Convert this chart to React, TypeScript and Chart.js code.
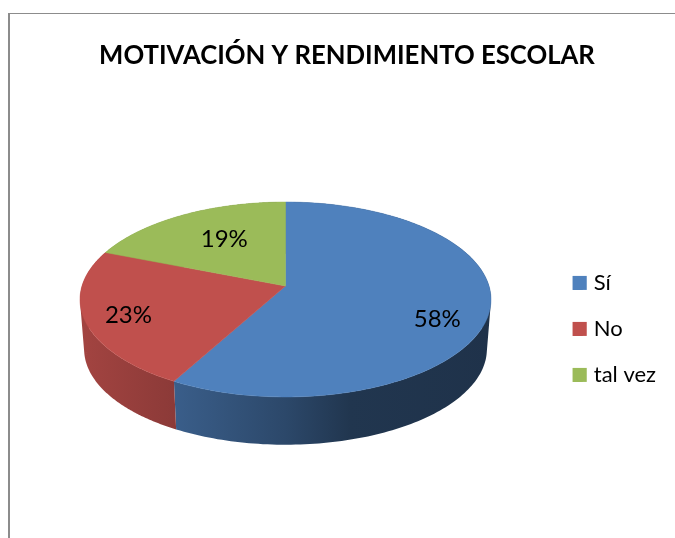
import React, { useEffect, useRef } from "react";
import { Chart, registerables } from "chart.js";

Chart.register(...registerables);

const TITLE = "MOTIVACIÓN Y RENDIMIENTO ESCOLAR";
const categories = ["Sí", "No", "tal vez"];
const shares = [58, 23, 19];
const sliceColors = ["#4F81BD", "#C0504D", "#9BBB59"];

// Where each percentage sits: fraction of the radius, then a small vertical nudge.
const labelRadius = [0.75, 0.79, 0.57];
const labelNudge = [15, 3, -4];

// Perspective view of the pie disc.
const VIEW = { x: 285.5, y: 286, a: 203.5, b: 95.6, k: 0.1384 };
// The underside of the disc, seen further away.
const BASE = { scale: 0.98, drop: 50 };
// Brightness of the rim, by horizontal position on the page.
const rimShadeX = [80, 174, 285, 350, 491];
const rimShade = [0.85, 0.73, 0.56, 0.42, 0.39];
const LEGEND_BOX = 14;

const project = (angle: number, f = 1, scale = 1, drop = 0) => {
  const u = Math.cos(angle) * f;
  const v = Math.sin(angle) * f;
  const d = 1 - VIEW.k * v;
  return {
    x: VIEW.x + (scale * VIEW.a * u) / d,
    y: VIEW.y + drop + (scale * VIEW.b * v) / d,
  };
};

const hexToRgb = (hex: string) => [1, 3, 5].map((i) => parseInt(hex.slice(i, i + 2), 16));

const perspectivePie = {
  id: "perspectivePie",
  beforeDatasetDraw(chart: any) {
    const { ctx } = chart;
    const arcs = chart.getDatasetMeta(0).data;
    const colors = chart.data.datasets[0].backgroundColor as string[];
    const STEPS = 180;

    // Rim first, so that the top face covers its hidden back half.
    arcs.forEach((arc: any, i: number) => {
      const { startAngle, endAngle } = arc;
      const [r, g, b] = hexToRgb(colors[i]);
      const x0 = rimShadeX[0];
      const x1 = rimShadeX[rimShadeX.length - 1];
      const grad = ctx.createLinearGradient(x0, 0, x1, 0);
      rimShadeX.forEach((x, n) => {
        const m = rimShade[n];
        grad.addColorStop((x - x0) / (x1 - x0), `rgb(${r * m},${g * m},${b * m})`);
      });
      ctx.fillStyle = grad;
      // One path of many small quads: the sweep between the rims, silhouette included.
      ctx.beginPath();
      for (let s = 0; s < STEPS; s++) {
        const a0 = startAngle + ((endAngle - startAngle) * s) / STEPS;
        const a1 = startAngle + ((endAngle - startAngle) * (s + 1)) / STEPS;
        const t0 = project(a0);
        const t1 = project(a1);
        const b0 = project(a0, 1, BASE.scale, BASE.drop);
        const b1 = project(a1, 1, BASE.scale, BASE.drop);
        // Every quad wound the same way, so nonzero filling leaves no holes.
        const area =
          (t1.x - t0.x) * (b0.y - t0.y) - (t1.y - t0.y) * (b0.x - t0.x);
        ctx.moveTo(t0.x, t0.y);
        if (area >= 0) {
          ctx.lineTo(t1.x, t1.y);
          ctx.lineTo(b1.x, b1.y);
          ctx.lineTo(b0.x, b0.y);
        } else {
          ctx.lineTo(b0.x, b0.y);
          ctx.lineTo(b1.x, b1.y);
          ctx.lineTo(t1.x, t1.y);
        }
        ctx.closePath();
      }
      ctx.fill();
    });

    // Top face.
    arcs.forEach((arc: any, i: number) => {
      const { startAngle, endAngle } = arc;
      ctx.beginPath();
      const apex = project(0, 0);
      ctx.moveTo(apex.x, apex.y);
      for (let s = 0; s <= STEPS; s++) {
        const p = project(startAngle + ((endAngle - startAngle) * s) / STEPS);
        ctx.lineTo(p.x, p.y);
      }
      ctx.closePath();
      ctx.fillStyle = colors[i];
      ctx.strokeStyle = colors[i];
      ctx.lineWidth = 0.5;
      ctx.fill();
      ctx.stroke();
    });
    return false;
  },
  afterDatasetsDraw(chart: any) {
    const { ctx } = chart;
    const values = chart.data.datasets[0].data as number[];
    ctx.save();
    ctx.font = "24px Lato";
    ctx.fillStyle = "#000000";
    ctx.textAlign = "center";
    ctx.textBaseline = "middle";
    chart.getDatasetMeta(0).data.forEach((arc: any, i: number) => {
      const mid = (arc.startAngle + arc.endAngle) / 2;
      const p = project(mid, labelRadius[i]);
      ctx.fillText(`${values[i]}%`, p.x, p.y + labelNudge[i]);
    });
    ctx.restore();
  },
  afterDraw(chart: any) {
    // Chart.js ties the swatch-to-text gap to the font size; widen the swatch into that gap.
    const { ctx, legend } = chart;
    const colors = chart.data.datasets[0].backgroundColor as string[];
    ctx.save();
    legend.legendHitBoxes.forEach((box: any, i: number) => {
      ctx.fillStyle = colors[i];
      ctx.fillRect(box.left, box.top + (box.height - LEGEND_BOX) / 2, LEGEND_BOX, LEGEND_BOX);
    });
    ctx.restore();
  },
};

export default function App() {
  const ref = useRef<HTMLCanvasElement>(null);
  useEffect(() => {
    const chart = new Chart(ref.current!, {
      type: "pie",
      data: {
        labels: categories,
        datasets: [{ data: shares, backgroundColor: sliceColors, borderWidth: 0 }],
      },
      options: {
        responsive: false,
        animation: false,
        events: [],
        layout: { padding: { left: 28, right: 9, top: 0, bottom: 0 } },
        plugins: {
          tooltip: { enabled: false },
          title: {
            display: true,
            text: TITLE,
            color: "#000000",
            font: { family: "Lato", size: 25.7, weight: "bold" },
            padding: { top: 40, bottom: 49 },
          },
          legend: {
            display: true,
            position: "right",
            fullSize: false,
            labels: {
              color: "#000000",
              font: { family: "Lato", size: 22 },
              boxWidth: 10,
              boxHeight: 14,
              padding: 24,
            },
          },
        },
      },
      plugins: [perspectivePie],
    } as any);
    return () => chart.destroy();
  }, []);

  return (
    <div style={{ position: "fixed", left: 0, top: 0, width: 675, height: 538, background: "#fff", overflow: "hidden" }}>
      <canvas ref={ref} width={675} height={538} style={{ position: "absolute", left: 0, top: 0, display: "block" }} />
      <div
        style={{
          position: "absolute",
          left: 8,
          top: 13,
          width: 675,
          height: 538,
          borderLeft: "2px solid #8c8c8c",
          borderTop: "1.5px solid #8c8c8c",
          pointerEvents: "none",
        }}
      />
    </div>
  );
}
